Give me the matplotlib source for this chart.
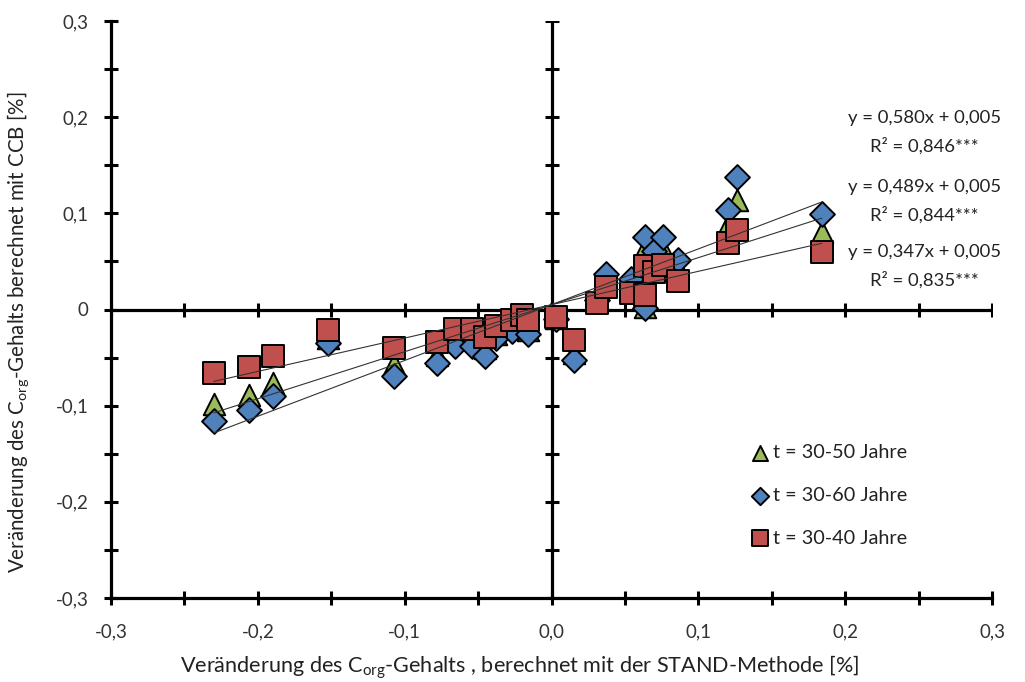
import numpy as np
import matplotlib
matplotlib.use("Agg")
import matplotlib.pyplot as plt

plt.rcParams['font.family'] = ['Lato', 'DejaVu Sans']

# Change in C_org content: STAND method (x) vs. CCB model (y), in %
x_stand = [-0.230, -0.206, -0.190, -0.152, -0.107, -0.078, -0.066, -0.054, -0.045,
           -0.038, -0.027, -0.020, -0.016, 0.003, 0.015, 0.031, 0.037, 0.054,
           0.064, 0.064, 0.070, 0.076, 0.086, 0.120, 0.126, 0.184]

y_30_50 = [-0.098, -0.089, -0.076, -0.030, -0.057, -0.047, -0.031, -0.031, -0.040,
           -0.025, -0.018, -0.009, -0.021, -0.009, -0.045, 0.009, 0.031, 0.028,
           0.003, 0.064, 0.052, 0.063, 0.043, 0.088, 0.114, 0.081]

y_30_60 = [-0.116, -0.105, -0.090, -0.035, -0.069, -0.056, -0.038, -0.038, -0.048,
           -0.030, -0.022, -0.012, -0.025, -0.010, -0.053, 0.010, 0.037, 0.032,
           0.002, 0.075, 0.061, 0.075, 0.051, 0.103, 0.138, 0.099]

y_30_40 = [-0.066, -0.060, -0.048, -0.021, -0.040, -0.034, -0.020, -0.020, -0.029,
           -0.017, -0.011, -0.006, -0.011, -0.008, -0.032, 0.007, 0.023, 0.017,
           0.015, 0.045, 0.039, 0.046, 0.030, 0.069, 0.083, 0.060]

series_labels = ["t = 30-50 Jahre", "t = 30-60 Jahre", "t = 30-40 Jahre"]
slopes = [0.489, 0.580, 0.347]
intercepts = [0.005, 0.005, 0.005]
r_squared = [0.844, 0.846, 0.835]

x_ticks = [-0.3, -0.2, -0.1, 0.0, 0.1, 0.2, 0.3]
x_ticklabels = ["-0,3", "-0,2", "-0,1", "0,0", "0,1", "0,2", "0,3"]
y_ticks = [-0.3, -0.2, -0.1, 0.0, 0.1, 0.2, 0.3]
y_ticklabels = ["-0,3", "-0,2", "-0,1", "0", "0,1", "0,2", "0,3"]
minor_ticks = np.arange(-0.3, 0.3001, 0.05)

fig = plt.figure(figsize=(10.25, 6.82), dpi=100)
ax = fig.add_axes([111 / 1025, 84 / 682, 881 / 1025, 577 / 682])
ax.set_xlim(-0.3, 0.3)
ax.set_ylim(-0.3, 0.3)

for s in ['top', 'right']:
    ax.spines[s].set_visible(False)
for s in ['left', 'bottom']:
    ax.spines[s].set_linewidth(2.3)

ax.set_xticks(x_ticks)
ax.set_xticklabels(x_ticklabels)
ax.set_yticks(y_ticks)
ax.set_yticklabels(y_ticklabels)
ax.set_xticks(minor_ticks, minor=True)
ax.set_yticks(minor_ticks, minor=True)
ax.tick_params(which='both', direction='inout', length=10, width=2.2, labelsize=13.5,
               colors='black')
ax.tick_params(axis='x', pad=13)
ax.tick_params(axis='y', pad=11)
for lab in ax.get_xticklabels() + ax.get_yticklabels():
    lab.set_color('#333333')

# Axes through the origin with crossing ticks
ax.axhline(0, color='black', lw=2.3, zorder=2)
ax.axvline(0, color='black', lw=2.3, zorder=2)
ax.plot(minor_ticks, np.zeros_like(minor_ticks), ls='none', marker='|',
        ms=10, mew=2.2, color='black', zorder=2)
ax.plot(np.zeros_like(minor_ticks), minor_ticks, ls='none', marker='_',
        ms=10, mew=2.2, color='black', zorder=2)

# Linear fits
xmin, xmax = min(x_stand), max(x_stand)
xl = np.array([xmin, xmax])
for m, b in zip(slopes, intercepts):
    ax.plot(xl, m * xl + b, color='#333333', lw=0.8, zorder=5)

ax.scatter(x_stand, y_30_50, marker='^', s=240, c='#9BBB59', edgecolors='black',
           linewidths=1.4, zorder=3, label=series_labels[0])
ax.scatter(x_stand, y_30_60, marker='D', s=160, c='#4F81BD', edgecolors='black',
           linewidths=1.4, zorder=4, label=series_labels[1])
ax.scatter(x_stand, y_30_40, marker='s', s=260, c='#C0504D', edgecolors='black',
           linewidths=1.4, zorder=4.5, label=series_labels[2])

# Equations
eq_y = [187, 118, 252]
for m, b, r2, yp in zip(slopes, intercepts, r_squared, eq_y):
    eq = f"y = {m:.3f}x + {b:.3f}".replace('.', ',')
    r2s = f"R² = {r2:.3f}***".replace('.', ',')
    fig.text(924 / 1025, 1 - yp / 682, eq, ha='center', va='center', fontsize=13.3,
             color='#222222')
    fig.text(924 / 1025, 1 - (yp + 28) / 682, r2s, ha='center', va='center',
             fontsize=13.3, color='#222222')

leg = ax.legend(loc='upper left', bbox_to_anchor=(738 / 1025, 1 - 434 / 682),
                bbox_transform=fig.transFigure, frameon=False, fontsize=14.3,
                labelspacing=1.3, handletextpad=0.05, handlelength=1.2,
                markerscale=0.7, borderpad=0)
for t in leg.get_texts():
    t.set_color('#222222')

ax.set_xlabel("Veränderung des C$_{\\mathregular{org}}$-Gehalts , berechnet mit der STAND-Methode [%]",
              fontsize=15.6, color='#222222')
ax.xaxis.set_label_coords((520 - 111) / 881, -0.096)
ax.set_ylabel("Veränderung des C$_{\\mathregular{org}}$-Gehalts berechnet mit CCB [%]",
              fontsize=14.8, color='#222222')
ax.yaxis.set_label_coords((31 - 111) / 881, (598 - 332) / 577)

fig.savefig("out.png", dpi=100)
